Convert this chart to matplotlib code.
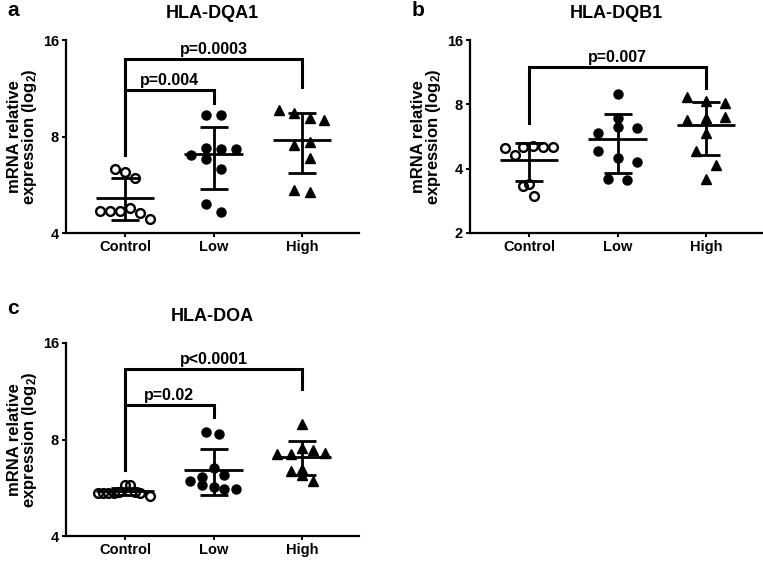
import matplotlib
matplotlib.use('Agg')
import matplotlib.pyplot as plt
import numpy as np

plt.rcParams['font.family'] = ['Liberation Sans', 'DejaVu Sans']
plt.rcParams['font.weight'] = 'bold'
plt.rcParams['mathtext.fontset'] = 'custom'
plt.rcParams['mathtext.rm'] = 'Liberation Sans:bold'
plt.rcParams['mathtext.bf'] = 'Liberation Sans:bold'
plt.rcParams['mathtext.default'] = 'bf'

groups = ['Control', 'Low', 'High']

# panel a - HLA-DQA1
ctrl_a = [6.33, 6.20, 5.94, 4.70, 4.70, 4.70, 4.77, 4.63, 4.41]
low_a = [9.34, 9.34, 7.30, 7.38, 7.30, 6.98, 6.79, 6.33, 4.93, 4.65]
high_a = [9.68, 9.45, 9.12, 9.00, 7.71, 7.53, 6.84, 5.45, 5.38]

# panel b - HLA-DQB1
ctrl_b = [4.99, 4.64, 5.03, 5.08, 5.03, 5.03, 3.31, 3.39, 2.97]
low_b = [8.92, 6.90, 6.30, 5.90, 6.19, 4.82, 4.51, 4.28, 3.58, 3.53]
high_b = [8.64, 8.25, 8.10, 6.77, 6.90, 6.97, 5.87, 4.82, 4.18, 3.56]

# panel c - HLA-DOA
ctrl_c = [5.44, 5.44, 5.44, 5.46, 5.50, 5.77, 5.77, 5.50, 5.46, 5.34]
low_c = [8.42, 8.32, 6.50, 5.94, 6.13, 6.20, 5.77, 5.70, 5.61, 5.60]
high_c = [8.94, 7.42, 7.28, 7.20, 7.20, 7.54, 6.38, 6.49, 6.20, 5.95]

# horizontal scatter of the points (prism style), same order as values
ctrl_a_dx = [-0.11, 0, 0.11, -0.28, -0.17, -0.06, 0.06, 0.17, 0.28]
low_a_dx = [-0.085, 0.085, 0.25, -0.085, 0.085, -0.25, -0.085, 0.085, -0.085, 0.085]
high_a_dx = [-0.26, -0.085, 0.085, 0.25, 0.085, -0.085, 0.085, -0.085, 0.085]
ctrl_b_dx = [-0.27, -0.16, -0.07, 0.05, 0.16, 0.27, -0.07, 0.0, 0.06]
low_b_dx = [0, 0, 0, -0.22, 0.22, -0.22, 0, 0.22, -0.11, 0.11]
high_b_dx = [-0.22, 0, 0.22, -0.22, 0, 0.22, 0, -0.11, 0.11, 0]
ctrl_c_dx = [-0.30, -0.245, -0.19, -0.13, -0.065, 0.0, 0.055, 0.11, 0.17, 0.28]
low_c_dx = [-0.08, 0.06, 0, -0.27, -0.13, 0.12, -0.13, 0, 0.12, 0.25]
high_c_dx = [0, 0.12, 0.26, -0.28, -0.13, 0, -0.13, 0, 0, 0.12]

# brackets: (from group, to group, top y, left end y, right end y, label)
brackets_a = [(0, 2, 14.0, 7.0, 11.4, 'p=0.0003'), (0, 1, 11.2, 7.0, 10.2, 'p=0.004')]
brackets_b = [(0, 2, 12.0, 6.53, 9.52, 'p=0.007')]
brackets_c = [(0, 2, 13.28, 6.42, 11.46, 'p<0.0001'), (0, 1, 10.24, 6.42, 9.43, 'p=0.02')]

W, H = 763, 562
fig = plt.figure(figsize=(W / 100, H / 100), dpi=100)


def panel(rect, letter, title, data, dxs, brackets, ylim, yticks):
    ax = fig.add_axes([rect[0] / W, 1 - rect[3] / H, (rect[2] - rect[0]) / W, (rect[3] - rect[1]) / H])
    markers = [dict(marker='o', mfc='none', mec='black', mew=1.7, ms=6.3),
               dict(marker='o', mfc='black', mec='black', ms=6.5),
               dict(marker='^', mfc='black', mec='black', ms=6.5)]
    for i, (vals, dx) in enumerate(zip(data, dxs)):
        vals = np.array(vals)
        ax.plot(i + np.array(dx), vals, ls='none', **markers[i], zorder=2)
        m = vals.mean()
        sd = vals.std(ddof=1)
        ax.errorbar(i, m, yerr=sd, fmt='none', ecolor='black', elinewidth=2,
                    capsize=10, capthick=2, zorder=3)
        ax.hlines(m, i - 0.33, i + 0.33, color='black', lw=2, zorder=3)
    for g0, g1, ytop, y0, y1, lab in brackets:
        ax.plot([g0, g0, g1, g1], [y0, ytop, ytop, y1], color='black', lw=2.2,
                solid_joinstyle='miter', clip_on=False)
        ax.annotate(lab, xy=((g0 + g1) / 2, ytop), xytext=(0, 3.5), textcoords='offset points',
                    ha='center', va='baseline', fontsize=11.5, fontweight='bold')
    ax.set_yscale('log', base=2)
    ax.set_ylim(ylim)
    ax.set_yticks(yticks)
    ax.set_yticklabels([str(t) for t in yticks])
    ax.minorticks_off()
    ax.set_xlim(-0.667, 2.644)
    ax.set_xticks(range(3))
    ax.set_xticklabels(groups)
    for s in ['top', 'right']:
        ax.spines[s].set_visible(False)
    for s in ['left', 'bottom']:
        ax.spines[s].set_linewidth(1.6)
    ax.tick_params(width=1.4, length=3, labelsize=10.5, pad=2)
    for t in ax.get_xticklabels() + ax.get_yticklabels():
        t.set_fontweight('bold')
    ax.set_ylabel('mRNA relative\nexpression (log$_2$)', fontsize=12, fontweight='bold',
                  linespacing=0.85, labelpad=3)
    ax.set_title(title, fontsize=13, fontweight='bold', pad=16)
    fig.text(letter[1] / W, 1 - letter[2] / H, letter[0], fontsize=15, fontweight='bold',
             ha='center', va='center')
    return ax


panel((66, 40, 359, 233), ('a', 13, 11), 'HLA-DQA1', [ctrl_a, low_a, high_a],
      [ctrl_a_dx, low_a_dx, high_a_dx], brackets_a, (4, 16), [4, 8, 16])
panel((470, 40, 763, 233), ('b', 418, 11), 'HLA-DQB1', [ctrl_b, low_b, high_b],
      [ctrl_b_dx, low_b_dx, high_b_dx], brackets_b, (2, 16), [2, 4, 8, 16])
panel((66, 343, 359, 536), ('c', 13, 308), 'HLA-DOA', [ctrl_c, low_c, high_c],
      [ctrl_c_dx, low_c_dx, high_c_dx], brackets_c, (4, 16), [4, 8, 16])

fig.savefig('out.png', dpi=100, facecolor='white')
